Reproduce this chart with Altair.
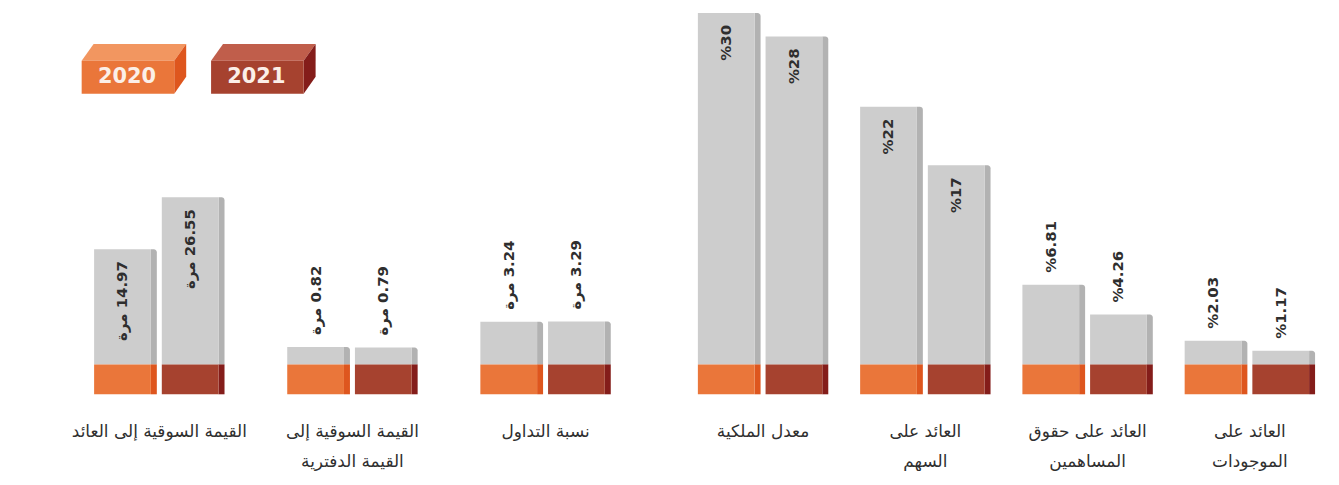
import altair as alt
import pandas as pd

# ---------------- data ----------------
years = ["2020", "2021"]

left_groups = ["القيمة السوقية إلى العائد", "القيمة السوقية إلى القيمة الدفترية", "نسبة التداول"]
left_labels = ["القيمة السوقية إلى العائد", "القيمة السوقية إلى|القيمة الدفترية", "نسبة التداول"]
left_2020 = [14.97, 0.82, 3.24]
left_2021 = [26.55, 0.79, 3.29]

right_groups = ["معدل الملكية", "العائد على السهم", "العائد على حقوق المساهمين", "العائد على الموجودات"]
right_labels = ["معدل الملكية", "العائد على|السهم", "العائد على حقوق|المساهمين", "العائد على|الموجودات"]
right_2020 = [30, 22, 6.81, 2.03]
right_2021 = [28, 17, 4.26, 1.17]

unit_times = "مرة"

# ---------------- styles ----------------
front_colors = {"2020": "#EA763A", "2021": "#A6422F"}
side_colors = {"2020": "#DE561E", "2021": "#841D1A"}
top_colors = {"2020": "#F29660", "2021": "#C05E4B"}
GREY_FRONT = "#cdcdcd"
GREY_SIDE = "#b2b2b2"
TEXT_COL = "#2e2e2e"
FONT = "DejaVu Sans"

H = 387          # panel height (plot area)
BASE = 30        # coloured base block height in px
FRONT_W = 57
SIDE_W = 6
YEAR_SHIFT = {"2020": -34, "2021": 34}


def fmt_times(v):
    return f"{unit_times}\u200e {v:.2f}"


def fmt_pct(v):
    return f"%{v:g}"


def make_df(groups, v20, v21, fmt, inside_min):
    rows = []
    for g, a, b in zip(groups, v20, v21):
        for yr, v in zip(years, (a, b)):
            rows.append(dict(group=g, year=yr, value=v, label=fmt(v), inside=bool(v >= inside_min)))
    return pd.DataFrame(rows)


def panel(df, groups, labels, step, yscale, legend=False):
    x = alt.X("group:N", sort=groups, scale=alt.Scale(paddingInner=0, paddingOuter=0), axis=None)
    y = alt.Y("value:Q", scale=yscale, axis=None)
    base = alt.Chart(df)
    layers = []
    for yr in years:
        sh = YEAR_SHIFT[yr]
        d = base.transform_filter(alt.datum.year == yr)
        side_x = sh + FRONT_W / 2 - 3 + SIDE_W / 2
        front_x = sh - 3
        layers.append(
            d.mark_bar(width=SIDE_W, xOffset=side_x, color=GREY_SIDE, cornerRadiusTopRight=3)
            .encode(x=x, y=y, y2=alt.datum(0))
        )
        layers.append(
            d.mark_bar(width=FRONT_W, xOffset=front_x, color=GREY_FRONT)
            .encode(x=x, y=y, y2=alt.datum(0))
        )
        layers.append(
            d.mark_bar(width=SIDE_W, xOffset=side_x, color=side_colors[yr])
            .encode(x=x, y=alt.value(H), y2=alt.value(H - BASE))
        )
        layers.append(
            d.mark_bar(width=FRONT_W, xOffset=front_x, color=front_colors[yr])
            .encode(x=x, y=alt.value(H), y2=alt.value(H - BASE))
        )
        layers.append(
            d.transform_filter(alt.datum.inside == True)
            .mark_text(angle=270, align="right", baseline="middle", xOffset=front_x, yOffset=12,
                       font=FONT, fontSize=15, fontWeight="bold", color=TEXT_COL)
            .encode(x=x, y=y, text="label:N")
        )
        layers.append(
            d.transform_filter(alt.datum.inside == False)
            .mark_text(angle=270, align="left", baseline="middle", xOffset=front_x, yOffset=-12,
                       font=FONT, fontSize=15, fontWeight="bold", color=TEXT_COL)
            .encode(x=x, y=y, text="label:N")
        )
    labdf = pd.DataFrame({"group": groups, "label": labels})
    layers.append(
        alt.Chart(labdf)
        .mark_text(lineBreak="|", baseline="top", align="center", font=FONT, fontSize=17,
                   lineHeight=30, color="#2f2f2f")
        .encode(x=x, y=alt.value(H + 30), text="label:N")
    )
    if legend:
        front_path = "M -0.465 -0.165 L 0.465 -0.165 L 0.465 0.165 L -0.465 0.165 Z"
        top_path = "M -0.465 -0.165 L -0.345 -0.335 L 0.585 -0.335 L 0.465 -0.165 Z"
        side_path = "M 0.465 -0.165 L 0.585 -0.335 L 0.585 -0.005 L 0.465 0.165 Z"
        for i, yr in enumerate(years):
            ld = alt.Chart(pd.DataFrame({"year": [yr]}))
            lx = 65.5 + 130 * i
            ly = 68.5
            for path, col in ((top_path, top_colors[yr]), (side_path, side_colors[yr]),
                              (front_path, front_colors[yr])):
                layers.append(
                    ld.mark_point(shape=path, filled=True, opacity=1, size=40000, strokeWidth=0, fill=col)
                    .encode(x=alt.value(lx), y=alt.value(ly))
                )
            layers.append(
                ld.mark_text(font=FONT, fontSize=21, fontWeight="bold", color="#fbefe8",
                             align="center", baseline="middle")
                .encode(x=alt.value(lx - 1), y=alt.value(ly), text="year:N")
            )
    return alt.layer(*layers).properties(width=step * len(groups), height=H)


left_df = make_df(left_groups, left_2020, left_2021, fmt_times, 10)
right_df = make_df(right_groups, right_2020, right_2021, fmt_pct, 10)

left_scale = alt.Scale(type="pow", exponent=0.65, domain=[0, 26.55], range=[H - BASE, 189], nice=False)
right_scale = alt.Scale(type="linear", domain=[0, 30], range=[H - BASE, 4], nice=False)

left = panel(left_df, left_groups, left_labels, 194, left_scale, legend=True)
right = panel(right_df, right_groups, right_labels, 163, right_scale)

chart = (
    alt.hconcat(left, right, spacing=40, bounds="flush")
    .properties(padding={"left": 55, "top": 0, "right": 0, "bottom": 0}, background="white")
    .configure_view(stroke=None)
)

chart.save("out.html", embed_options={"renderer": "svg", "actions": False})
